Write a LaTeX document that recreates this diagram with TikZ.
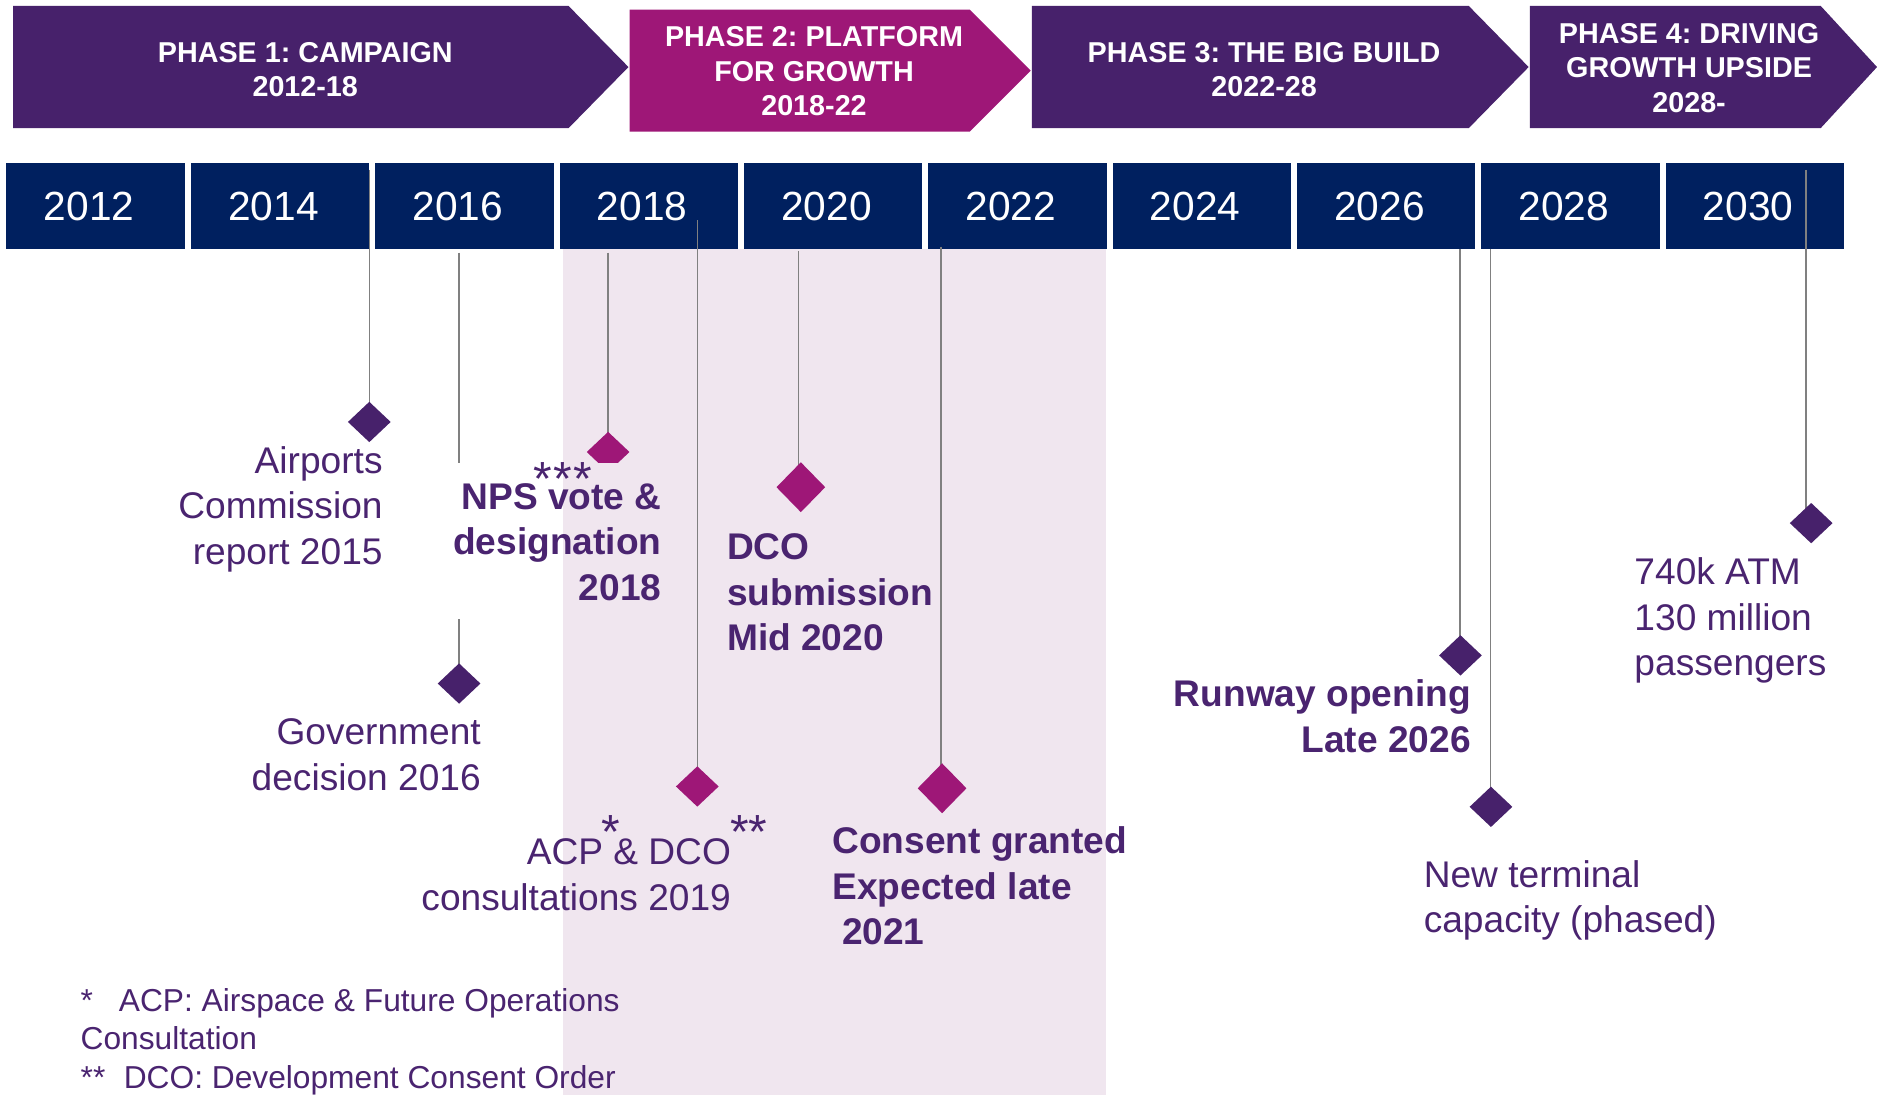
\documentclass[tikz,border=0pt]{standalone}
\usepackage{fontspec}
\setmainfont{Liberation Sans}
\frenchspacing
\usetikzlibrary{shapes.geometric}

\definecolor{phasepurple}{HTML}{47216B}
\definecolor{phasemagenta}{HTML}{9E1777}
\definecolor{yearnavy}{HTML}{00205F}
\definecolor{bandpink}{HTML}{F0E6EF}
\definecolor{inkpurple}{HTML}{4A2470}
\definecolor{stemgray}{HTML}{808080}

\pgfdeclarelayer{base}
\pgfdeclarelayer{stems}
\pgfsetlayers{base,stems,main}

\begin{document}
\begin{tikzpicture}[x=0.5pt,y=-0.5pt,
  phasetxt/.style={text=white, inner sep=0pt, align=center,
    font=\fontsize{12pt}{14.4pt}\selectfont\bfseries},
  yearbox/.style={fill=yearnavy, inner sep=0pt, minimum width=74.5pt,
    minimum height=36pt, text=white, font=\fontsize{17pt}{19pt}\selectfont},
  stem/.style={draw=stemgray, line width=0.6pt},
  gem/.style={diamond, inner sep=0pt, minimum width=18pt, minimum height=17pt},
  biggem/.style={diamond, inner sep=0pt, minimum width=20.5pt, minimum height=21pt},
  lbl/.style={text=inkpurple, inner sep=0pt, font=\fontsize{15.5pt}{19pt}\selectfont},
  lblb/.style={text=inkpurple, inner sep=0pt, font=\fontsize{15.5pt}{19pt}\selectfont\bfseries},
  star/.style={text=inkpurple, inner sep=0pt, font=\fontsize{20pt}{20pt}\selectfont},
  note/.style={text=inkpurple, inner sep=0pt, align=left, font=\fontsize{13.25pt}{16pt}\selectfont},
]
\useasboundingbox (0,0) rectangle (1568,915);

% phase chevrons
\fill[phasepurple]  (11,5)   -- (475,5)   -- (525,56) -- (475,107)  -- (11,107)  -- cycle;
\fill[phasemagenta] (526,8)  -- (810,8)   -- (861,59) -- (810,110)  -- (526,110) -- cycle;
\fill[phasepurple]  (862,5)  -- (1227,5)  -- (1277,56) -- (1227,107) -- (862,107) -- cycle;
\fill[phasepurple]  (1278,5) -- (1521,5)  -- (1568,56) -- (1521,107) -- (1278,107) -- cycle;

\node[phasetxt, anchor=north] (p1) at (255,35)  {PHASE 1: CAMPAIGN\\2012-18};
\node[phasetxt, anchor=north] (p2) at (680,22)  {PHASE 2: PLATFORM\\FOR GROWTH\\2018-22};
\node[phasetxt, anchor=north] (p3) at (1056,35) {PHASE 3: THE BIG BUILD\\2022-28};
\node[phasetxt, anchor=north] (p4) at (1411,19) {PHASE 4: DRIVING\\GROWTH UPSIDE\\2028-};

\begin{pgfonlayer}{base}
  % shaded band for the platform-for-growth years
  \fill[bandpink] (470,208) rectangle (924,915);
  % year strip (labels sit a little left of centre)
  \foreach \yr [count=\i from 0] in {2012,2014,2016,2018,2020,2022,2024,2026,2028,2030}
    \node[yearbox, anchor=north west] (y\yr) at ({5+154*\i},136) {\yr\kern5.5pt};
\end{pgfonlayer}

% milestone markers
\node[gem, fill=phasepurple]  (d1) at (308.5,352.5) {};
\node[gem, fill=phasepurple]  (d2) at (383.5,571) {};
\node[gem, fill=phasemagenta] (d3) at (508,377.6) {};
\node[gem, fill=phasemagenta] (d4) at (582.5,657) {};
\node[biggem, fill=phasemagenta] (d5) at (669,407) {};
\node[biggem, fill=phasemagenta] (d6) at (787,658.5) {};
\node[gem, fill=phasepurple]  (d7) at (1220,547.5) {};
\node[gem, fill=phasepurple]  (d8) at (1245.5,674) {};
\node[gem, fill=phasepurple]  (d9) at (1513,437) {};

% stem tops
\coordinate (t1) at (308.5,142);
\coordinate (t2) at (383.5,211);
\coordinate (t3) at (508,211);
\coordinate (t4) at (582.5,184);
\coordinate (t5) at (667,210);
\coordinate (t6) at (786,206);
\coordinate (t7) at (1219.5,208);
\coordinate (t8) at (1245,208);
\coordinate (t9) at (1508.5,142);

% stems, kept behind the markers
\begin{pgfonlayer}{stems}
  \foreach \k in {1,...,9}
    \draw[stem] (t\k) -- (t\k |- d\k.center);
\end{pgfonlayer}

% backing of the NPS label
\fill[white]    (374,387) rectangle (470,517);
\fill[bandpink] (470,387) rectangle (565,517);

% milestone labels
\node[lbl, anchor=north east, align=right] (l1) at (320,372.5) {Airports\\Commission\\report 2015};
\node[lbl, anchor=north east, align=right] (l2) at (402,600) {Government\\decision 2016};
\node[lblb, anchor=north east, align=right] (l3) at (553,403.5) {NPS vote \&\\designation\\2018};
\node[star] (s3) at (470.5,400) {*\kern0.6pt*\kern0.6pt*};
\node[lbl, anchor=north east, align=right] (l4) at (611,700.5) {ACP \& DCO\\consultations 2019};
\node[star] (s4a) at (510.5,695) {*};
\node[star] (s4b) at (625.5,695) {*\kern-0.5pt*};
\node[lblb, anchor=north west, align=left] (l5) at (607,445.5) {DCO\\submission\\Mid 2020};
\node[lblb, anchor=north west, align=left] (l6) at (695,690.5) {Consent granted\\Expected late\\\hspace*{4pt}2021};
\node[lblb, anchor=north east, align=right] (l7) at (1229,567.5) {Runway opening\\Late 2026};
\node[lbl, anchor=north west, align=left] (l8) at (1189,718.5) {New terminal\\capacity (phased)};
\node[lbl, anchor=north west, align=left] (l9) at (1365,465.5) {740k ATM\\130 million\\passengers};

% footnotes
\node[note, anchor=north west] (fn) at (67,825.5)
  {*\hspace{10.8pt}ACP: Airspace \& Future Operations\\Consultation\\**\hspace{7.7pt}DCO: Development Consent Order};
\end{tikzpicture}
\end{document}
